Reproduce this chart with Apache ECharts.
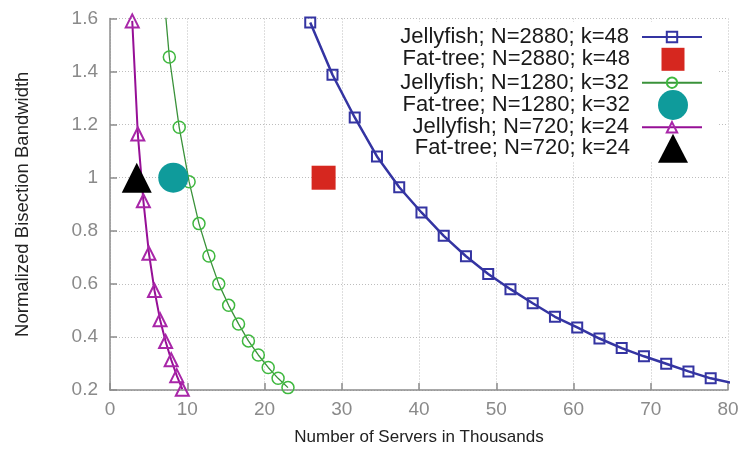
<!DOCTYPE html>
<html>
<head>
<meta charset="utf-8">
<script src="https://cdn.jsdelivr.net/npm/echarts@6/dist/echarts.min.js"></script>
<style>
html, body { margin: 0; padding: 0; background: #fff; }
#chart { width: 746px; height: 458px; }
</style>
</head>
<body>
<div id="chart"></div>
<script>
// servers (thousands) and normalized bisection bandwidth
var jf2880X = [25.92, 28.8, 31.68, 34.56, 37.44, 40.32, 43.2, 46.08, 48.96, 51.84, 54.72, 57.6, 60.48, 63.36, 66.24, 69.12, 72.0, 74.88, 77.76, 80.64];
var jf2880Y = [1.585, 1.388, 1.227, 1.08, 0.964, 0.869, 0.781, 0.704, 0.637, 0.58, 0.527, 0.476, 0.436, 0.394, 0.358, 0.327, 0.299, 0.27, 0.244, 0.226];

var jf1280X = [6.4, 7.68, 8.96, 10.24, 11.52, 12.8, 14.08, 15.36, 16.64, 17.92, 19.2, 20.48, 21.76, 23.04];
var jf1280Y = [1.88, 1.455, 1.19, 0.985, 0.827, 0.705, 0.6, 0.519, 0.449, 0.385, 0.332, 0.285, 0.244, 0.209];

var jf720X = [2.88, 3.6, 4.32, 5.04, 5.76, 6.48, 7.2, 7.92, 8.64, 9.36];
var jf720Y = [1.591, 1.165, 0.913, 0.715, 0.575, 0.465, 0.383, 0.314, 0.254, 0.203];

var fatTreeX = [27.65, 8.19, 3.46];
var fatTreeY = [1, 1, 1];

var seriesNames = [
  'Jellyfish; N=2880; k=48',
  'Fat-tree; N=2880; k=48',
  'Jellyfish; N=1280; k=32',
  'Fat-tree; N=1280; k=32',
  'Jellyfish; N=720; k=24',
  'Fat-tree; N=720; k=24'
];

var xTicks = { min: 0, max: 80, step: 10 };
var yTicks = { min: 0.2, max: 1.6, step: 0.2 };

function pairs(xs, ys) {
  return xs.map(function (x, i) { return [x, ys[i]]; });
}

var FONT = 'Liberation Sans';
var chart = echarts.init(document.getElementById('chart'), null, { renderer: 'canvas' });

function lineSeries(name, xs, ys, color, markColor, symbol, size, width, markWidth) {
  return {
    name: name,
    type: 'line',
    data: pairs(xs, ys),
    symbol: symbol,
    symbolSize: size,
    showAllSymbol: true,
    clip: true,
    z: 2,
    lineStyle: { color: color, width: width },
    itemStyle: { color: 'rgba(255,255,255,0)', borderColor: markColor, borderWidth: markWidth },
    emphasis: { disabled: true },
    animation: false
  };
}

function pointSeries(name, x, y, color, symbol, size) {
  return {
    name: name,
    type: 'scatter',
    data: [[x, y]],
    symbol: symbol,
    symbolSize: size,
    z: 5,
    itemStyle: { color: color, opacity: 1 },
    emphasis: { disabled: true },
    animation: false
  };
}

// one legend per row so each icon can have its own size
var iconCenterX = 673;
var textRight = 630;
var legendLine = 22;
var legendRows = [
  { name: seriesNames[0], cy: 37, w: 60, h: 13 },
  { name: seriesNames[1], cy: 59.3, w: 23, h: 23 },
  { name: seriesNames[2], cy: 82.7, w: 60, h: 13 },
  { name: seriesNames[3], cy: 105, w: 30, h: 30 },
  { name: seriesNames[4], cy: 127.3, w: 60, h: 13 },
  { name: seriesNames[5], cy: 148.3, w: 30, h: 29 }
];

var legends = legendRows.map(function (r) {
  var iconLeft = iconCenterX - r.w / 2;
  return {
    data: [r.name],
    selectedMode: false,
    right: 746 - (iconCenterX + r.w / 2),
    top: r.cy - Math.max(r.h, legendLine) / 2,
    align: 'right',
    padding: 0,
    itemWidth: r.w,
    itemHeight: r.h,
    z: 6,
    textStyle: {
      fontFamily: FONT, fontSize: 22, color: '#1a1a1a',
      lineHeight: legendLine, padding: [0, iconLeft - 5 - textRight, 0, 0]
    }
  };
});

var option = {
  backgroundColor: '#fff',
  animation: false,
  grid: { left: 110, right: 18, top: 18.5, bottom: 68, containLabel: false },
  legend: legends,
  graphic: [{
    type: 'rect',
    shape: { x: 345, y: 22, width: 372, height: 139 },
    style: { fill: '#fff' },
    z: 1,
    silent: true
  }],
  xAxis: {
    type: 'value',
    min: xTicks.min, max: xTicks.max, interval: xTicks.step,
    name: 'Number of Servers in Thousands',
    nameLocation: 'middle',
    nameGap: 39,
    nameTextStyle: { fontFamily: FONT, fontSize: 17, color: '#222' },
    axisLine: { show: true, lineStyle: { color: '#8c8c8c', width: 1.5 } },
    axisTick: { show: true, inside: true, length: 7, lineStyle: { color: '#8c8c8c', width: 1.5 } },
    axisLabel: { fontFamily: FONT, fontSize: 19, color: '#8a8a8a', margin: 10 },
    splitLine: { show: true, lineStyle: { color: '#bdbdbd', width: 1, type: [1, 2] } }
  },
  yAxis: {
    type: 'value',
    min: yTicks.min, max: yTicks.max, interval: yTicks.step,
    name: 'Normalized Bisection Bandwidth',
    nameLocation: 'middle',
    nameGap: 78,
    nameTextStyle: { fontFamily: FONT, fontSize: 18.5, color: '#222' },
    axisLine: { show: true, lineStyle: { color: '#8c8c8c', width: 1.5 } },
    axisTick: { show: true, inside: true, length: 7, lineStyle: { color: '#8c8c8c', width: 1.5 } },
    axisLabel: {
      fontFamily: FONT, fontSize: 19, color: '#8a8a8a', margin: 12,
      formatter: function (v) { return String(Math.round(v * 10) / 10); }
    },
    splitLine: { show: true, lineStyle: { color: '#bdbdbd', width: 1, type: [1, 2] } }
  },
  series: [
    lineSeries(seriesNames[0], jf2880X, jf2880Y, '#3434a2', '#3434a2', 'rect', 10, 2.5, 2),
    pointSeries(seriesNames[1], fatTreeX[0], fatTreeY[0], '#d6271f', 'rect', 24),
    lineSeries(seriesNames[2], jf1280X, jf1280Y, '#3a923a', '#3fb83f', 'circle', 12, 1.3, 1.5),
    pointSeries(seriesNames[3], fatTreeX[1], fatTreeY[1], '#0f9b9b', 'circle', 30),
    lineSeries(seriesNames[4], jf720X, jf720Y, '#960f96', '#a826a8', 'triangle', 13, 2, 2),
    pointSeries(seriesNames[5], fatTreeX[2], fatTreeY[2], '#000', 'triangle', 30)
  ]
};

chart.setOption(option);
</script>
</body>
</html>
